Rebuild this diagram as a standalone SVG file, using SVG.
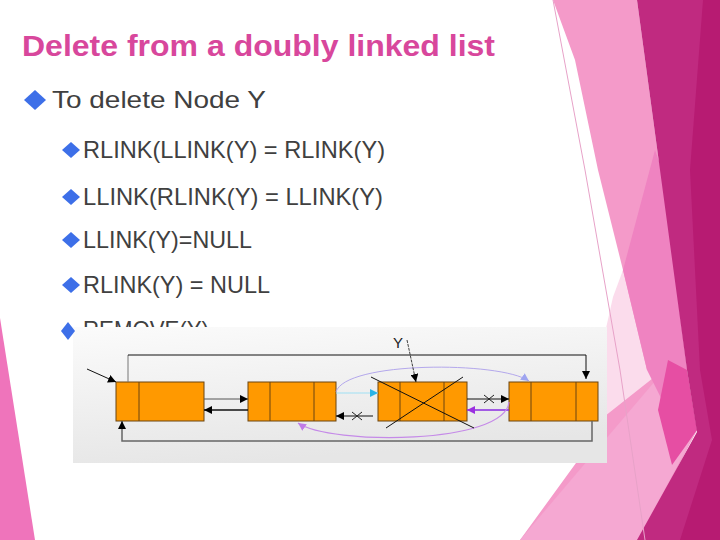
<svg xmlns="http://www.w3.org/2000/svg" width="720" height="540" viewBox="0 0 720 540">
<defs>
<style>
.title{font-family:"Liberation Sans",Arial,sans-serif;font-weight:bold;font-size:29px;fill:#d8479c}
.t1{font-family:"Liberation Sans",Arial,sans-serif;font-size:24px;fill:#404040}
.t2{font-family:"Liberation Sans",Arial,sans-serif;font-size:24px;fill:#404040}
.dia{fill:#3d6fe8}
.node rect{fill:#ff9900;stroke:#6b4510;stroke-width:1}
.node line{stroke:#6b4510;stroke-width:1}
.blk{fill:none;stroke:#111;stroke-width:1}
.gry{fill:none;stroke:#666;stroke-width:1.5}
</style>
<linearGradient id="panel" x1="0" y1="0" x2="0.3" y2="1">
<stop offset="0" stop-color="#fbfbfb"/>
<stop offset="1" stop-color="#e6e6e6"/>
</linearGradient>
<marker id="ab" viewBox="0 0 10 10" refX="10" refY="5" markerWidth="8" markerHeight="8" markerUnits="userSpaceOnUse" orient="auto">
<path d="M0,0 L10,5 L0,10 z" fill="#000"/>
</marker>
<marker id="ac" viewBox="0 0 10 10" refX="10" refY="5" markerWidth="8" markerHeight="8" markerUnits="userSpaceOnUse" orient="auto">
<path d="M0,0 L10,5 L0,10 z" fill="#2ab4e8"/>
</marker>
<marker id="ap" viewBox="0 0 10 10" refX="10" refY="5" markerWidth="8" markerHeight="8" markerUnits="userSpaceOnUse" orient="auto">
<path d="M0,0 L10,5 L0,10 z" fill="#9a2fe0"/>
</marker>
<marker id="al" viewBox="0 0 10 10" refX="10" refY="5" markerWidth="8" markerHeight="8" markerUnits="userSpaceOnUse" orient="auto">
<path d="M0,0 L10,5 L0,10 z" fill="#9ea4f0"/>
</marker>
<marker id="am" viewBox="0 0 10 10" refX="10" refY="5" markerWidth="8" markerHeight="8" markerUnits="userSpaceOnUse" orient="auto">
<path d="M0,0 L10,5 L0,10 z" fill="#c07be8"/>
</marker>
</defs>
<rect x="0" y="0" width="720" height="540" fill="#ffffff"/>
<g id="decoration">
<polygon points="0,318 35,540 0,540" fill="#ef74bb"/>
<polygon points="553,0 637,0 660,170 687,370 697,430 640,540 520,540 600,430 623,270 598,170 575,60" fill="#f49ac9"/>
<polygon points="613,297 623,270 647,370 667,367 600,420 590,400" fill="#fbdcec"/>
<polygon points="520,540 667,367 697,430 637,540" fill="#f5a8d2"/>
<polygon points="655,150 662,170 687,370 672,420 647,370 623,270" fill="#ef83c1"/>
<polygon points="668,360 687,370 697,430 672,465 658,410" fill="#e64ea3"/>
<polygon points="637,0 720,0 720,540 637,540 697,432 687,370 660,170" fill="#c02a80"/>
<polygon points="703,0 720,0 720,540 680,540 712,440 700,370 690,170" fill="#b71b72"/>
<polyline points="553,0 585,170 620,370 645,540" fill="none" stroke="#e7a2c8" stroke-width="1"/>
</g>
<text class="title" x="22" y="56" textLength="473" lengthAdjust="spacingAndGlyphs">Delete from a doubly linked list</text>
<polygon class="dia" points="35,90 46,100 35,110 24,100"/>
<text class="t1" x="52" y="108" textLength="214" lengthAdjust="spacingAndGlyphs">To delete Node Y</text>
<polygon class="dia" points="71,142 80,150 71,158 62,150"/>
<text class="t2" x="83" y="158" textLength="302" lengthAdjust="spacingAndGlyphs">RLINK(LLINK(Y) = RLINK(Y)</text>
<polygon class="dia" points="71,189 80,197 71,205 62,197"/>
<text class="t2" x="83" y="205" textLength="300" lengthAdjust="spacingAndGlyphs">LLINK(RLINK(Y) = LLINK(Y)</text>
<polygon class="dia" points="71,232 80,240 71,248 62,240"/>
<text class="t2" x="83" y="248" textLength="169" lengthAdjust="spacingAndGlyphs">LLINK(Y)=NULL</text>
<polygon class="dia" points="71,277 80,285 71,293 62,285"/>
<text class="t2" x="83" y="293" textLength="187" lengthAdjust="spacingAndGlyphs">RLINK(Y) = NULL</text>
<text class="t2" x="83" y="338" textLength="126" lengthAdjust="spacingAndGlyphs">REMOVE(Y)</text>
<rect x="73" y="327" width="534" height="136" fill="url(#panel)"/>
<polygon class="dia" points="68,322 75,331 68,340 61,331"/>
<g id="node1" class="node"><rect x="116" y="382" width="88" height="39"/><line x1="139" y1="382" x2="139" y2="421"/></g>
<g id="node2" class="node"><rect x="248" y="382" width="88" height="39"/><line x1="270" y1="382" x2="270" y2="421"/><line x1="314" y1="382" x2="314" y2="421"/></g>
<g id="node3" class="node"><rect x="378" y="382" width="89" height="39"/><line x1="400" y1="382" x2="400" y2="421"/><line x1="444" y1="382" x2="444" y2="421"/></g>
<g id="node4" class="node"><rect x="509" y="382" width="89" height="39"/><line x1="531" y1="382" x2="531" y2="421"/><line x1="576" y1="382" x2="576" y2="421"/></g>
<g id="connectors">
<line x1="87" y1="369" x2="116" y2="382" class="blk" marker-end="url(#ab)"/>
<polyline points="128,382 128,355" fill="none" stroke="#777" stroke-width="1"/>
<polyline points="128,355 586,355 586,379" class="blk" marker-end="url(#ab)"/>
<polyline points="592,421 592,441 122,441 122,421" class="gry" marker-end="url(#ab)"/>
<line x1="204" y1="399" x2="248" y2="399" stroke="#555" stroke-width="1" marker-end="url(#ab)"/>
<line x1="248" y1="410" x2="204" y2="410" stroke="#111" stroke-width="1.5" marker-end="url(#ab)"/>
<line x1="336" y1="393" x2="378" y2="393" stroke="#9fe0f4" stroke-width="1" marker-end="url(#ac)"/>
<line x1="373" y1="416" x2="336" y2="416" stroke="#111" stroke-width="1.2" marker-end="url(#ab)"/>
<path d="M352,412 L362,420 M352,420 L362,412" stroke="#222" stroke-width="1" fill="none"/>
<line x1="467" y1="399" x2="509" y2="399" stroke="#111" stroke-width="1" marker-end="url(#ab)"/>
<path d="M484,395 L494,403 M484,403 L494,395" stroke="#222" stroke-width="1" fill="none"/>
<line x1="509" y1="410" x2="467" y2="410" stroke="#8a2be2" stroke-width="1.5" marker-end="url(#ap)"/>
<path d="M336,392 C345,361 500,361 529,381" fill="none" stroke="#b4a8ec" stroke-width="1" marker-end="url(#al)"/>
<path d="M509,402 C505,445 330,445 298,423" fill="none" stroke="#c58ae8" stroke-width="1.2" marker-end="url(#am)"/>
<line x1="407" y1="340" x2="416" y2="382" stroke="#111" stroke-width="0.8" stroke-dasharray="3,1" marker-end="url(#ab)"/>
<line x1="371" y1="377" x2="474" y2="428" stroke="#111" stroke-width="1"/>
<line x1="463" y1="377" x2="386" y2="428" stroke="#111" stroke-width="1"/>
</g>
<text x="398" y="348" text-anchor="middle" font-family="Liberation Sans, Arial, sans-serif" font-size="15" fill="#222">Y</text>
</svg>
